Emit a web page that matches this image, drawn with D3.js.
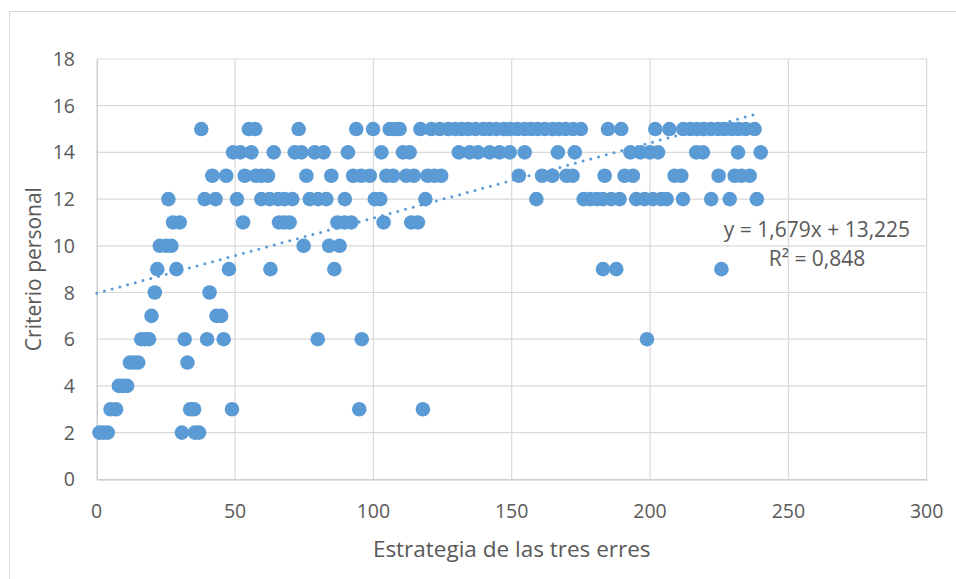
<!DOCTYPE html>
<html>
<head>
<meta charset="utf-8">
<script src="https://cdn.jsdelivr.net/npm/d3@7"></script>
<style>
  html, body { margin: 0; padding: 0; background: #ffffff; }
  svg text { font-family: "Open Sans", "Noto Sans", sans-serif; fill: #595959; }
</style>
</head>
<body>
<div id="chart"></div>
<script>
// Points, one array of x values per y level
const x2 = [1, 2.5, 4, 30.8, 35.5, 37];
const x3 = [5, 7, 33.8, 35.2, 48.9, 94.9, 117.9];
const x4 = [8, 9.5, 11];
const x5 = [12, 13.5, 15, 32.8];
const x6 = [16.1, 17.5, 18.9, 31.8, 39.9, 45.9, 79.9, 95.8, 198.9];
const x7 = [19.8, 43.3, 45];
const x8 = [21, 40.8];
const x9 = [21.9, 28.8, 47.8, 62.8, 85.9, 183, 187.8, 225.8];
const x10 = [22.8, 25.2, 27, 74.8, 84, 87.8];
const x11 = [27.6, 30, 52.9, 65.9, 67.8, 69.7, 87, 89.6, 92, 103.7, 113.7, 116.1];
const x12 = [25.9, 39, 43, 50.7, 59.5, 62.5, 65.5, 67.9, 70.7, 77, 80, 83, 89.7,
  100.5, 102.5, 118.8, 158.9, 176, 178.4, 180.8, 183, 186, 189, 195, 198, 201,
  204, 206, 211.9, 222.1, 228.8, 238.6];
const x13 = [41.8, 46.8, 53.5, 57.5, 59.5, 61.9, 75.8, 84.8, 92.7, 95.6, 98.7,
  104.7, 107.1, 111.9, 114.6, 119.6, 122, 124.5, 152.6, 161, 164.7, 169.8, 172,
  183.6, 190.8, 193.8, 208.9, 211.3, 224.8, 230.6, 233, 236];
const x14 = [49.3, 51.9, 55.9, 64, 71.6, 74, 78.8, 82, 90.8, 102.9, 110.7, 113.1,
  130.9, 134.8, 137.8, 142, 145.6, 149.3, 154.7, 166.7, 172.8, 192.9, 196.5,
  199.9, 202.9, 216.7, 219.1, 231.8, 240];
const x15 = [37.8, 55, 57.3, 73, 93.8, 99.9, 105.9, 108, 109.5, 117, 121, 124,
  127, 129.6, 132, 134.3, 137, 139.8, 142, 144.5, 147.2, 149.5, 152, 154.6, 157,
  159.4, 162, 164.7, 167, 169.5, 172.2, 175, 184.8, 189.6, 201.9, 207, 212,
  214.6, 217, 219.4, 222, 224.6, 227, 229.5, 232, 234.6, 237.8];

const yLevels = [2, 3, 4, 5, 6, 7, 8, 9, 10, 11, 12, 13, 14, 15];
const xLists = [x2, x3, x4, x5, x6, x7, x8, x9, x10, x11, x12, x13, x14, x15];

// Dotted linear trendline, end points as drawn
const trendX = [0, 238];
const trendY = [7.97, 15.63];
const trendLabel = ['y = 1,679x + 13,225', 'R² = 0,848'];

const xTicks = [0, 50, 100, 150, 200, 250, 300];
const yTicks = [0, 2, 4, 6, 8, 10, 12, 14, 16, 18];

const xTitle = 'Estrategia de las tres erres';
const yTitle = 'Criterio personal';

const width = 956;
const height = 579;
const plot = { left: 96.7, right: 926.7, top: 59, bottom: 479.3 };
const blue = '#5b9bd5';

const points = [];
yLevels.forEach((y, i) => {
  xLists[i].forEach(x => points.push({ x, y }));
});

const svg = d3.select('#chart')
  .append('svg')
  .attr('width', width)
  .attr('height', height);

// Chart area border
svg.append('rect')
  .attr('x', 9.5)
  .attr('y', 11.5)
  .attr('width', 980)
  .attr('height', 620)
  .attr('fill', '#ffffff')
  .attr('stroke', '#d9d9d9');

const x = d3.scaleLinear().domain([0, 300]).range([plot.left, plot.right]);
const y = d3.scaleLinear().domain([0, 18]).range([plot.bottom, plot.top]);

// Gridlines
svg.append('g')
  .selectAll('line.h')
  .data(yTicks.slice(1))
  .join('line')
  .attr('x1', plot.left)
  .attr('x2', plot.right)
  .attr('y1', d => y(d))
  .attr('y2', d => y(d))
  .attr('stroke', '#d9d9d9')
  .attr('stroke-width', 1.2);

svg.append('g')
  .selectAll('line.v')
  .data(xTicks.slice(1))
  .join('line')
  .attr('x1', d => x(d))
  .attr('x2', d => x(d))
  .attr('y1', plot.top)
  .attr('y2', plot.bottom)
  .attr('stroke', '#d9d9d9')
  .attr('stroke-width', 1.2);

// Axes (lines only, labels drawn below)
const xAxis = svg.append('g')
  .attr('transform', `translate(0,${plot.bottom})`)
  .call(d3.axisBottom(x).tickValues(xTicks).tickSize(0).tickFormat(''));
const yAxis = svg.append('g')
  .attr('transform', `translate(${plot.left},0)`)
  .call(d3.axisLeft(y).tickValues(yTicks).tickSize(0).tickFormat(''));
[xAxis, yAxis].forEach(a => {
  a.select('.domain').attr('stroke', '#bfbfbf').attr('stroke-width', 1.2);
});

// Tick labels
svg.append('g')
  .selectAll('text')
  .data(xTicks)
  .join('text')
  .attr('x', d => x(d))
  .attr('y', 518)
  .attr('text-anchor', 'middle')
  .style('font-size', '19.5px')
  .text(d => d);

svg.append('g')
  .selectAll('text')
  .data(yTicks)
  .join('text')
  .attr('x', 75)
  .attr('y', d => y(d) + 7)
  .attr('text-anchor', 'end')
  .style('font-size', '19.5px')
  .text(d => d);

// Points
svg.append('g')
  .selectAll('circle')
  .data(points)
  .join('circle')
  .attr('cx', d => x(d.x))
  .attr('cy', d => y(d.y))
  .attr('r', 7.3)
  .attr('fill', blue);

// Trendline
svg.append('line')
  .attr('x1', x(trendX[0]))
  .attr('y1', y(trendY[0]))
  .attr('x2', x(trendX[1]))
  .attr('y2', y(trendY[1]))
  .attr('stroke', blue)
  .attr('stroke-width', 3)
  .attr('stroke-linecap', 'round')
  .attr('stroke-dasharray', '0 8');

svg.append('g')
  .selectAll('text')
  .data(trendLabel)
  .join('text')
  .attr('x', 817)
  .attr('y', (d, i) => 237 + i * 28.5)
  .attr('text-anchor', 'middle')
  .style('font-size', '21px')
  .text(d => d);

// Axis titles
svg.append('text')
  .attr('x', (plot.left + plot.right) / 2)
  .attr('y', 557)
  .attr('text-anchor', 'middle')
  .style('font-size', '22.5px')
  .text(xTitle);

svg.append('text')
  .attr('transform', `translate(41,${(plot.top + plot.bottom) / 2}) rotate(-90)`)
  .attr('text-anchor', 'middle')
  .style('font-size', '21px')
  .text(yTitle);
</script>
</body>
</html>
